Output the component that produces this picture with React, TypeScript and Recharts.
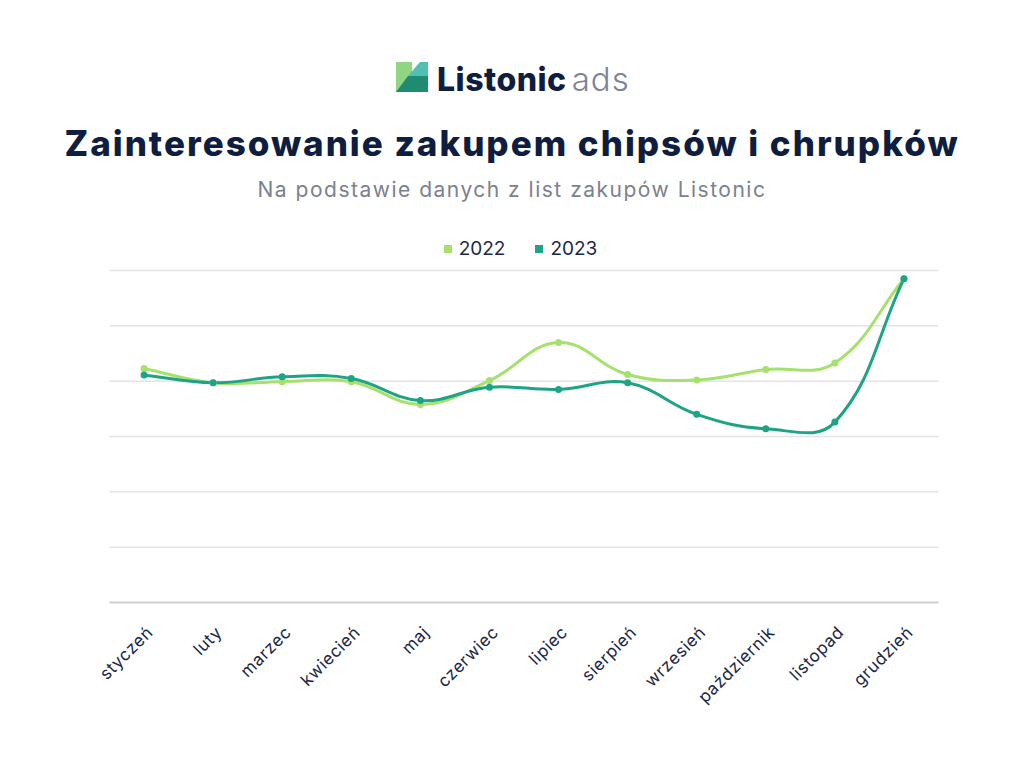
import React from 'react';
import { LineChart, Line, XAxis, YAxis, CartesianGrid } from 'recharts';

// Monthly purchase-interest index, two years
const months = [
  'styczeń', 'luty', 'marzec', 'kwiecień', 'maj', 'czerwiec',
  'lipiec', 'sierpień', 'wrzesień', 'październik', 'listopad', 'grudzień',
];
const values2022 = [4.23, 3.97, 3.99, 3.99, 3.58, 4.01, 4.7, 4.12, 4.02, 4.21, 4.33, 5.85];
const values2023 = [4.11, 3.97, 4.08, 4.05, 3.65, 3.89, 3.85, 3.97, 3.4, 3.14, 3.26, 5.85];
const seriesNames = ['2022', '2023'];
const yTicks = [0, 1, 2, 3, 4, 5, 6];

const COLOR_2022 = '#a6e16d';
const COLOR_2023 = '#1fa385';
const NAVY = '#0f1d3f';
const FONT = 'Inter, "Noto Sans", sans-serif';

const data = months.map((m, i) => ({
  month: m,
  [seriesNames[0]]: values2022[i],
  [seriesNames[1]]: values2023[i],
}));

// Cardinal-like bezier spline (tension 0.4), drawn as a d3-style curve factory
const splineCurve = (tension: number) => (context: any) => {
  let pts: [number, number][] = [];
  return {
    areaStart() {},
    areaEnd() {},
    lineStart() {
      pts = [];
    },
    point(x: number, y: number) {
      pts.push([+x, +y]);
    },
    lineEnd() {
      const n = pts.length;
      if (!n) return;
      const cps = pts.map((cur, i) => {
        const prev = i > 0 ? pts[i - 1] : cur;
        const next = i < n - 1 ? pts[i + 1] : cur;
        const d01 = Math.hypot(cur[0] - prev[0], cur[1] - prev[1]);
        const d12 = Math.hypot(next[0] - cur[0], next[1] - cur[1]);
        const sum = d01 + d12;
        const s01 = sum ? d01 / sum : 0;
        const s12 = sum ? d12 / sum : 0;
        const fa = tension * s01;
        const fb = tension * s12;
        return {
          prev: [cur[0] - fa * (next[0] - prev[0]), cur[1] - fa * (next[1] - prev[1])],
          next: [cur[0] + fb * (next[0] - prev[0]), cur[1] + fb * (next[1] - prev[1])],
        };
      });
      context.moveTo(pts[0][0], pts[0][1]);
      for (let i = 1; i < n; i++) {
        const a = cps[i - 1].next;
        const b = cps[i].prev;
        context.bezierCurveTo(a[0], a[1], b[0], b[1], pts[i][0], pts[i][1]);
      }
    },
  };
};

const MonthTick = (props: any) => {
  const { x, y, payload } = props;
  const ax = x + 10;
  const ay = y + 23;
  return (
    <text
      x={ax}
      y={ay}
      transform={`rotate(-45, ${ax}, ${ay})`}
      textAnchor="end"
      fill="#1c2747"
      fontSize={17}
      letterSpacing={0.6}
      fontFamily={FONT}
    >
      {payload.value}
    </text>
  );
};

const Logo = () => (
  <svg width={32} height={30} viewBox="0 0 32 30" style={{ display: 'block' }}>
    <rect x={0} y={0} width={16} height={30} fill="#8fd582" />
    <polygon points="24,0 32,0 32,14 12,14" fill="#4fc0b1" />
    <polygon points="0,30 12,14 32,14 32,30" fill="#1f8b70" />
  </svg>
);

export default function App() {
  return (
    <div
      style={{
        position: 'absolute',
        left: 0,
        top: 0,
        width: 1024,
        height: 768,
        background: '#ffffff',
        fontFamily: FONT,
        overflow: 'hidden',
      }}
    >
      {/* brand line */}
      <div style={{ position: 'absolute', left: 396, top: 62 }}>
        <Logo />
      </div>
      <svg width={1024} height={230} style={{ position: 'absolute', left: 0, top: 0 }}>
        <text
          x={437}
          y={91}
          fontSize={32}
          fontWeight={800}
          fill={NAVY}
          letterSpacing={0.5}
          fontFamily={FONT}
        >
          Listonic
          <tspan dx={5} fontSize={33} fontWeight={300} fill="#7c8494" letterSpacing={1}>
            ads
          </tspan>
        </text>
        <text
          x={512}
          y={156}
          textAnchor="middle"
          fontSize={35}
          fontWeight={800}
          fill={NAVY}
          letterSpacing={2}
          fontFamily={FONT}
        >
          Zainteresowanie zakupem chipsów i chrupków
        </text>
        <text
          x={512}
          y={197}
          textAnchor="middle"
          fontSize={21}
          fill="#7b818d"
          letterSpacing={1.5}
          fontFamily={FONT}
        >
          Na podstawie danych z list zakupów Listonic
        </text>
      </svg>
      {/* legend */}
      <div
        style={{
          position: 'absolute',
          top: 238,
          left: 0,
          width: 1024,
          paddingLeft: 17,
          boxSizing: 'border-box',
          display: 'flex',
          justifyContent: 'center',
          gap: 30,
          fontSize: 19,
          color: '#1c2747',
          lineHeight: '22px',
        }}
      >
        {seriesNames.map((name, i) => (
          <div key={name} style={{ display: 'flex', alignItems: 'center', gap: 7 }}>
            <span
              style={{
                display: 'inline-block',
                width: 8,
                height: 8,
                background: i === 0 ? COLOR_2022 : COLOR_2023,
              }}
            />
            <span>{name}</span>
          </div>
        ))}
      </div>
      <div style={{ position: 'absolute', left: 0, top: 230 }}>
        <LineChart
          width={1024}
          height={538}
          data={data}
          margin={{ top: 40.5, right: 85.5, left: 109.5, bottom: 0 }}
        >
          <CartesianGrid vertical={false} stroke="#e3e4e7" strokeWidth={1.5} />
          <YAxis hide domain={[0, 6]} ticks={yTicks} />
          <XAxis
            dataKey="month"
            scale="band"
            height={165.5}
            interval={0}
            tickLine={false}
            axisLine={{ stroke: '#cfd1d6', strokeWidth: 2 }}
            tick={<MonthTick />}
          />
          <Line
            dataKey={seriesNames[0]}
            type={splineCurve(0.4) as any}
            stroke={COLOR_2022}
            strokeWidth={3}
            dot={{ r: 3.5, fill: COLOR_2022, stroke: COLOR_2022, strokeWidth: 0 }}
            activeDot={false}
            isAnimationActive={false}
          />
          <Line
            dataKey={seriesNames[1]}
            type={splineCurve(0.4) as any}
            stroke={COLOR_2023}
            strokeWidth={3}
            dot={{ r: 3.5, fill: COLOR_2023, stroke: COLOR_2023, strokeWidth: 0 }}
            activeDot={false}
            isAnimationActive={false}
          />
        </LineChart>
      </div>
    </div>
  );
}
